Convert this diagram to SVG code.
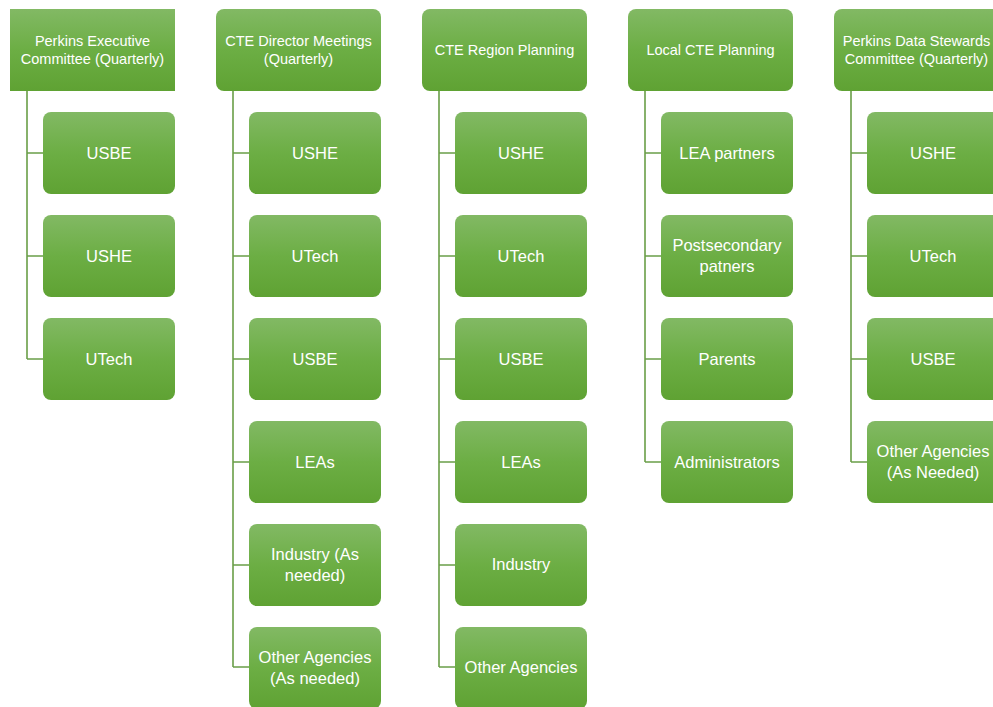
<svg xmlns="http://www.w3.org/2000/svg" width="993" height="707" viewBox="0 0 993 707">
<defs>
<linearGradient id="g" x1="0" y1="0" x2="0" y2="1">
<stop offset="0" stop-color="#82b964"/>
<stop offset="0.5" stop-color="#6cae44"/>
<stop offset="1" stop-color="#5fa233"/>
</linearGradient>
<style>
.b{fill:url(#g);}
.t{font-family:"Liberation Sans",Arial,sans-serif;fill:#ffffff;text-anchor:middle;}
.h{font-size:14.5px;}
.c{font-size:16.5px;}
.ln{stroke:#6a9e48;stroke-width:1.6;fill:none;}
</style>
</defs>
<rect width="993" height="707" fill="#ffffff"/>
<g id="connectors">
<path class="ln" d="M27,91V359M27,153H43M27,256H43M27,359H43"/>
<path class="ln" d="M233,91V667M233,153H249M233,256H249M233,359H249M233,462H249M233,565H249M233,667H249"/>
<path class="ln" d="M439,91V667M439,153H455M439,256H455M439,359H455M439,462H455M439,565H455M439,667H455"/>
<path class="ln" d="M645,91V462M645,153H661M645,256H661M645,359H661M645,462H661"/>
<path class="ln" d="M851,91V462M851,153H867M851,256H867M851,359H867M851,462H867"/>
</g>
<g id="h1"><rect class="b" x="10" y="9" width="165" height="82"/><text class="t h" x="92.5" y="46">Perkins Executive</text><text class="t h" x="92.5" y="64">Committee (Quarterly)</text></g>
<g id="h2"><rect class="b" x="216" y="9" width="165" height="82" rx="8"/><text class="t h" x="298.5" y="46">CTE Director Meetings</text><text class="t h" x="298.5" y="64">(Quarterly)</text></g>
<g id="h3"><rect class="b" x="422" y="9" width="165" height="82" rx="8"/><text class="t h" x="504.5" y="55">CTE Region Planning</text></g>
<g id="h4"><rect class="b" x="628" y="9" width="165" height="82" rx="8"/><text class="t h" x="710.5" y="55">Local CTE Planning</text></g>
<g id="h5"><rect class="b" x="834" y="9" width="170" height="82" rx="8"/><text class="t h" x="916.5" y="46">Perkins Data Stewards</text><text class="t h" x="916.5" y="64">Committee (Quarterly)</text></g>

<g id="c1a"><rect class="b" x="43" y="112" width="132" height="82" rx="8"/><text class="t c" x="109" y="159">USBE</text></g>
<g id="c1b"><rect class="b" x="43" y="215" width="132" height="82" rx="8"/><text class="t c" x="109" y="262">USHE</text></g>
<g id="c1c"><rect class="b" x="43" y="318" width="132" height="82" rx="8"/><text class="t c" x="109" y="365">UTech</text></g>

<g id="c2a"><rect class="b" x="249" y="112" width="132" height="82" rx="8"/><text class="t c" x="315" y="159">USHE</text></g>
<g id="c2b"><rect class="b" x="249" y="215" width="132" height="82" rx="8"/><text class="t c" x="315" y="262">UTech</text></g>
<g id="c2c"><rect class="b" x="249" y="318" width="132" height="82" rx="8"/><text class="t c" x="315" y="365">USBE</text></g>
<g id="c2d"><rect class="b" x="249" y="421" width="132" height="82" rx="8"/><text class="t c" x="315" y="468">LEAs</text></g>
<g id="c2e"><rect class="b" x="249" y="524" width="132" height="82" rx="8"/><text class="t c" x="315" y="560">Industry (As</text><text class="t c" x="315" y="581">needed)</text></g>
<g id="c2f"><rect class="b" x="249" y="627" width="132" height="82" rx="8"/><text class="t c" x="315" y="663">Other Agencies</text><text class="t c" x="315" y="684">(As needed)</text></g>

<g id="c3a"><rect class="b" x="455" y="112" width="132" height="82" rx="8"/><text class="t c" x="521" y="159">USHE</text></g>
<g id="c3b"><rect class="b" x="455" y="215" width="132" height="82" rx="8"/><text class="t c" x="521" y="262">UTech</text></g>
<g id="c3c"><rect class="b" x="455" y="318" width="132" height="82" rx="8"/><text class="t c" x="521" y="365">USBE</text></g>
<g id="c3d"><rect class="b" x="455" y="421" width="132" height="82" rx="8"/><text class="t c" x="521" y="468">LEAs</text></g>
<g id="c3e"><rect class="b" x="455" y="524" width="132" height="82" rx="8"/><text class="t c" x="521" y="570">Industry</text></g>
<g id="c3f"><rect class="b" x="455" y="627" width="132" height="82" rx="8"/><text class="t c" x="521" y="673">Other Agencies</text></g>

<g id="c4a"><rect class="b" x="661" y="112" width="132" height="82" rx="8"/><text class="t c" x="727" y="159">LEA partners</text></g>
<g id="c4b"><rect class="b" x="661" y="215" width="132" height="82" rx="8"/><text class="t c" x="727" y="251">Postsecondary</text><text class="t c" x="727" y="272">patners</text></g>
<g id="c4c"><rect class="b" x="661" y="318" width="132" height="82" rx="8"/><text class="t c" x="727" y="365">Parents</text></g>
<g id="c4d"><rect class="b" x="661" y="421" width="132" height="82" rx="8"/><text class="t c" x="727" y="468">Administrators</text></g>

<g id="c5a"><rect class="b" x="867" y="112" width="140" height="82" rx="8"/><text class="t c" x="933" y="159">USHE</text></g>
<g id="c5b"><rect class="b" x="867" y="215" width="140" height="82" rx="8"/><text class="t c" x="933" y="262">UTech</text></g>
<g id="c5c"><rect class="b" x="867" y="318" width="140" height="82" rx="8"/><text class="t c" x="933" y="365">USBE</text></g>
<g id="c5d"><rect class="b" x="867" y="421" width="140" height="82" rx="8"/><text class="t c" x="933" y="457">Other Agencies</text><text class="t c" x="933" y="478">(As Needed)</text></g>
</svg>
